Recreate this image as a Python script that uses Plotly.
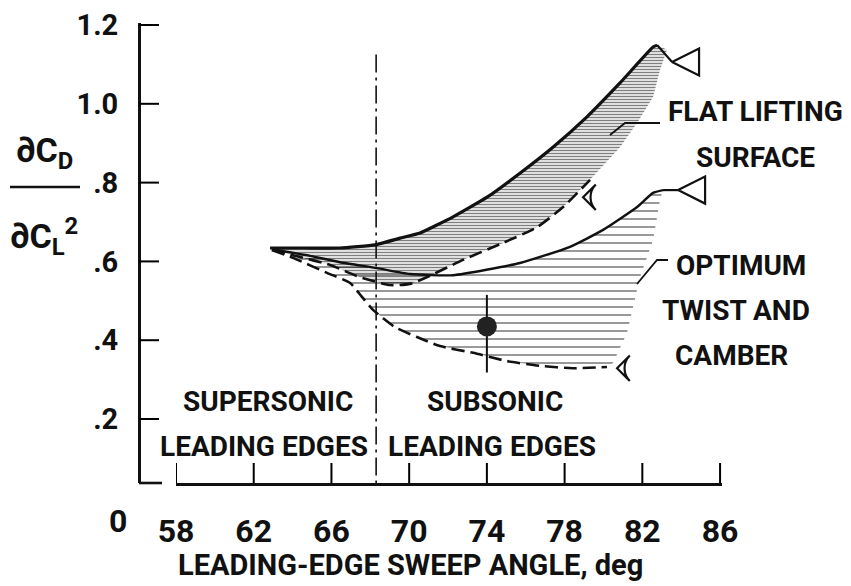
import plotly.graph_objects as go

# ---------------- data ----------------
flat_upper_x = [62.84, 64.6, 66.44, 68.24, 69.53, 70.56, 72.26, 74.01, 75.70, 77.40, 79.15, 80.85, 82.55, 82.76]
flat_upper_y = [0.634, 0.634, 0.634, 0.642, 0.659, 0.672, 0.713, 0.763, 0.824, 0.890, 0.967, 1.053, 1.144, 1.149]

flat_lower_x = [62.94, 64.38, 65.93, 67.47, 69.01, 70.04, 70.92, 72.77, 74.83, 76.58, 77.92, 79.31]
flat_lower_y = [0.629, 0.611, 0.591, 0.560, 0.540, 0.543, 0.560, 0.604, 0.647, 0.687, 0.738, 0.807]

flat_edge_x = [83.27, 82.91, 82.55, 81.73, 80.85, 80.10]
flat_edge_y = [1.137, 1.086, 1.017, 0.951, 0.890, 0.850]

opt_upper_x = [62.94, 64.90, 66.44, 68.34, 70.04, 72.26, 75.70, 78.28, 79.98, 81.73, 82.55, 83.06]
opt_upper_y = [0.631, 0.614, 0.598, 0.583, 0.568, 0.565, 0.596, 0.637, 0.680, 0.738, 0.774, 0.781]

opt_lower_x = [62.94, 64.02, 65.77, 66.96, 67.57, 68.14, 68.65, 69.27, 70.40, 71.59, 73.29, 75.04, 76.73, 78.43, 80.18]
opt_lower_y = [0.629, 0.609, 0.571, 0.545, 0.510, 0.477, 0.456, 0.433, 0.408, 0.385, 0.368, 0.347, 0.335, 0.329, 0.332]

opt_edge_x = [82.91, 82.55, 81.88, 81.21, 80.49]
opt_edge_y = [0.756, 0.654, 0.560, 0.418, 0.342]

# open-triangle / flag symbols at curve ends
tri_x = [83.53, 83.84]
tri_y = [1.106, 0.781]
flag_x = [78.95, 80.70]
flag_y = [0.763, 0.329]

# test point with scatter band
point_x = [74.0]
point_y = [0.435]
point_err_plus = [0.080]
point_err_minus = [0.117]

boundary_sweep = 68.3   # supersonic/subsonic leading-edge boundary

x_ticks = [58, 62, 66, 70, 74, 78, 82, 86]
y_ticks = [0.2, 0.4, 0.6, 0.8, 1.0, 1.2]
y_tick_text = [".2", ".4", ".6", ".8", "1.0", "1.2"]

X_MIN, X_MAX = 58, 86.1
Y_MIN, Y_MAX = 0.0376, 1.2051

# ---------------- styling ----------------
FONT = "Roboto, Liberation Sans, sans-serif"
BLACK = "#111111"
TICK_LEN = 20

OFF = 8                      # page body margin of the browser
W, H = 851 - OFF, 586 - OFF
ML, MR, MT, MB = 139 - OFF, 851 - 722, 15, 586 - 483
PW, PH = W - ML - MR, H - MT - MB


def PX(px):
    """page pixel x -> paper fraction"""
    return (px - OFF - ML) / PW


def PY(py):
    """page pixel y -> paper fraction"""
    return (H - MB - (py - OFF)) / PH


X_DOM0 = PX(176)

fig = go.Figure()

# hatched bands
fig.add_trace(go.Scatter(
    x=opt_upper_x + opt_edge_x + opt_lower_x[::-1],
    y=opt_upper_y + opt_edge_y + opt_lower_y[::-1],
    fill="toself", mode="lines", line=dict(width=0), fillcolor="rgba(0,0,0,0)",
    fillpattern=dict(shape="-", size=8, solidity=0.2, fgcolor="#000000"),
    hoverinfo="skip", showlegend=False))
fig.add_trace(go.Scatter(
    x=flat_upper_x + flat_edge_x + flat_lower_x[::-1],
    y=flat_upper_y + flat_edge_y + flat_lower_y[::-1],
    fill="toself", mode="lines", line=dict(width=0), fillcolor="rgba(0,0,0,0)",
    fillpattern=dict(shape="-", size=3, solidity=0.5, fgcolor="#000000"),
    hoverinfo="skip", showlegend=False))

# boundary curves
fig.add_trace(go.Scatter(x=flat_upper_x, y=flat_upper_y, mode="lines",
                         line=dict(color=BLACK, width=3.2, shape="spline", smoothing=0.4),
                         showlegend=False, hoverinfo="skip"))
fig.add_trace(go.Scatter(x=[flat_upper_x[-1], tri_x[0]], y=[flat_upper_y[-1], tri_y[0]], mode="lines",
                         line=dict(color=BLACK, width=2.2), showlegend=False, hoverinfo="skip"))
fig.add_trace(go.Scatter(x=flat_lower_x, y=flat_lower_y, mode="lines",
                         line=dict(color=BLACK, width=2.6, dash="13px,6px", shape="spline", smoothing=0.6),
                         showlegend=False, hoverinfo="skip"))
fig.add_trace(go.Scatter(x=opt_upper_x, y=opt_upper_y, mode="lines",
                         line=dict(color=BLACK, width=2.4, shape="spline", smoothing=0.5),
                         showlegend=False, hoverinfo="skip"))
fig.add_trace(go.Scatter(x=[opt_upper_x[-1], tri_x[1]], y=[opt_upper_y[-1], tri_y[1]], mode="lines",
                         line=dict(color=BLACK, width=2.2), showlegend=False, hoverinfo="skip"))
fig.add_trace(go.Scatter(x=opt_lower_x, y=opt_lower_y, mode="lines",
                         line=dict(color=BLACK, width=2.6, dash="13px,6px", shape="spline", smoothing=0.6),
                         showlegend=False, hoverinfo="skip"))

# symbols
fig.add_trace(go.Scatter(x=tri_x, y=tri_y, mode="markers",
                         marker=dict(symbol="arrow-left-open", size=27, color=BLACK,
                                     line=dict(color=BLACK, width=2.2)),
                         showlegend=False, hoverinfo="skip"))
fig.add_trace(go.Scatter(x=flag_x, y=flag_y, mode="markers",
                         marker=dict(symbol="arrow-wide-open", angle=-90, size=18, color=BLACK,
                                     line=dict(color=BLACK, width=2.2)),
                         showlegend=False, hoverinfo="skip"))

# boundary line between supersonic and subsonic leading edges
fig.add_trace(go.Scatter(x=[boundary_sweep, boundary_sweep], y=[1.125, Y_MIN], mode="lines",
                         line=dict(color=BLACK, width=1.6, dash="18px,5px,3px,5px"),
                         showlegend=False, hoverinfo="skip"))

# data point
fig.add_trace(go.Scatter(x=point_x, y=point_y, mode="markers",
                         marker=dict(symbol="circle", size=20, color="#222222"),
                         error_y=dict(type="data", array=point_err_plus, arrayminus=point_err_minus,
                                      symmetric=False, width=0, thickness=2, color=BLACK),
                         showlegend=False, hoverinfo="skip"))

x_tick_font = dict(family=FONT, size=32, color=BLACK, weight=700)
y_tick_font = dict(family=FONT, size=29, color=BLACK, weight=700)
fig.update_layout(
    width=W, height=H, autosize=False,
    margin=dict(l=ML, r=MR, t=MT, b=MB),
    paper_bgcolor="white", plot_bgcolor="white",
    xaxis=dict(domain=[X_DOM0, 1], range=[X_MIN, X_MAX], tickmode="array", tickvals=x_ticks,
               ticktext=[str(v) for v in x_ticks], showline=True, linecolor=BLACK, linewidth=2.6,
               ticks="", showgrid=False,
               zeroline=False, tickfont=x_tick_font, ticklabelstandoff=18, automargin=False,
               ticklabeloverflow="allow"),
    yaxis=dict(domain=[0, 1], range=[Y_MIN, Y_MAX], anchor="free", position=0,
               tickmode="array", tickvals=y_ticks, ticktext=y_tick_text, showline=True,
               linecolor=BLACK, linewidth=3, ticks="", showgrid=False,
               zeroline=False, tickfont=y_tick_font, ticklabelstandoff=14, automargin=False,
               ticklabeloverflow="allow"),
)

# inward tick marks, placed at the tick values through the axes
for v in x_ticks:
    fig.add_shape(type="line", xref="x", yref="paper", x0=v, x1=v, y0=0, y1=TICK_LEN / PH,
                  line=dict(color="#000000", width=2))
for v in y_ticks:
    fig.add_shape(type="line", xref="paper", yref="y", x0=0, x1=TICK_LEN / PW, y0=v, y1=v,
                  line=dict(color="#000000", width=2))

lab_font = dict(family=FONT, size=28, color=BLACK, weight=700)


def label(text, cx, cy, size=28, anchor="center"):
    f = dict(lab_font)
    f["size"] = size
    fig.add_annotation(text=text, x=PX(cx), y=PY(cy), xref="paper", yref="paper",
                       xanchor=anchor, yanchor="middle", showarrow=False, font=f)


label("SUPERSONIC", 268, 401)
label("LEADING EDGES", 264, 446)
label("SUBSONIC", 495, 401)
label("LEADING EDGES", 492, 446)
label("FLAT LIFTING", 755, 111)
label("SURFACE", 755, 157)
label("OPTIMUM", 741, 265)
label("TWIST AND", 736, 310)
label("CAMBER", 731, 355)
label("0", 118, 521, size=32)
label("LEADING-EDGE SWEEP ANGLE, deg", 410, 565, size=29)

# y-axis title as a fraction
label("\u2202C<sub>D</sub>", 44, 152, size=34)
label("\u2202C<sub>L</sub><sup>2</sup>", 44, 236, size=34)
fig.add_shape(type="line", xref="paper", yref="paper", x0=PX(10), x1=PX(80), y0=PY(187), y1=PY(187),
              line=dict(color=BLACK, width=2.4))

# short foot of the broken y axis
fig.add_shape(type="line", xref="paper", yref="paper", x0=PX(139), x1=PX(162), y0=PY(483), y1=PY(483),
              line=dict(color=BLACK, width=2.6))

# leader lines to the labels
fig.add_shape(type="path", xref="paper", yref="paper",
              path=f"M {PX(660)},{PY(123)} L {PX(625)},{PY(123)} L {PX(610)},{PY(135)}",
              line=dict(color=BLACK, width=1.8))
fig.add_shape(type="path", xref="paper", yref="paper",
              path=f"M {PX(668)},{PY(260)} L {PX(657)},{PY(260)} L {PX(637)},{PY(284)}",
              line=dict(color=BLACK, width=1.8))

fig.write_html("out.html")
